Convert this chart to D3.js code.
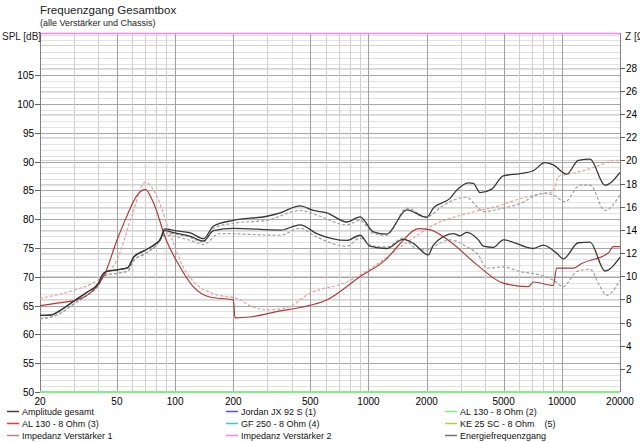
<!DOCTYPE html>
<html><head><meta charset="utf-8">
<script src="https://cdn.jsdelivr.net/npm/d3@7/dist/d3.min.js"></script>
<style>
html,body{margin:0;padding:0;background:#fff;}
svg{display:block;font-family:"Liberation Sans",Arial,sans-serif;}
</style></head>
<body><svg id="c" width="640" height="442"></svg>
<script>
// ---- data ----
const title = "Frequenzgang Gesamtbox";
const subtitle = "(alle Verstärker und Chassis)";
const yLeftLabel = "SPL [dB]";
const yRightLabel = "Z [Ω]";
const xTicks = [20, 50, 100, 200, 500, 1000, 2000, 5000, 10000, 20000];
const yLeftTicks = [50,55,60,65,70,75,80,85,90,95,100,105];
const yRightTicks = [2,4,6,8,10,12,14,16,18,20,22,24,26,28];
const yLeftDomain = [50, 112.3];
const yRightDomain = [0, 31];

// SPL curves [Hz, dB]
const amplitudeGesamt = [[20,63.3],[23,63.4],[25,64],[30,65.8],[35,67.3],[40,68.8],[42,70.3],[44,70.9],[50,71.2],[57,71.6],[61,73.4],[70,74.6],[80,75.8],[84,76.5],[88,78.3],[100,78],[120,77.6],[140,76.6],[158,78.8],[200,79.8],[298,80.5],[350,81.1],[443,82.3],[519,81.5],[608,81.1],[772,79.5],[904,80.4],[1060,77.8],[1240,77.4],[1580,81.6],[2000,80.3],[2165,81.9],[2640,83.6],[2860,85],[3285,86.3],[3490,86.2],[3780,84.6],[4340,85.2],[4980,87.5],[6080,87.9],[7120,88.4],[8180,89.8],[9040,89.4],[10600,87.8],[12170,90.2],[14000,90.4],[16720,85.9],[20000,88.1]];
const energieFG = [[20,63.3],[23,63.4],[25,64],[30,65.8],[35,67.3],[40,68.8],[42,70.3],[44,70.9],[50,71.2],[57,71.6],[61,73.4],[70,74.6],[80,75.8],[84,76.5],[88,78.0],[100,77.6],[120,77.0],[140,76.2],[158,78.0],[200,78.4],[350,78.1],[443,79.0],[540,77.5],[772,76.3],[904,77.2],[1018,75.3],[1240,74.9],[1514,76.5],[1706,75.8],[2040,73.8],[2165,75.5],[2750,77.5],[2975,77.1],[3220,77.7],[3700,76.4],[3930,75.3],[4425,75.1],[4980,76.4],[7120,74.9],[8020,75.5],[9400,74.1],[10180,73.1],[12170,75.9],[14000,76.0],[16720,71.0],[20000,73.4]];
const refUpper = [[20,62.7],[25,63.5],[30,65.3],[35,66.8],[40,68.4],[43,70.2],[50,70.6],[57,71.0],[61,72.8],[70,74],[80,75.5],[88,77.6],[100,77.4],[120,76.8],[140,76.0],[158,78.4],[200,79.3],[298,79.8],[443,81.5],[540,80.7],[772,79.0],[904,79.8],[1060,77.5],[1240,77.2],[1580,81.9],[2000,80.4],[2440,82.4],[3220,83.8],[3630,82.2],[3930,81.3],[4980,81.9],[6080,82.7],[8020,84.5],[9040,84.2],[10390,83.0],[12420,85.9],[14000,85.9],[16720,81.5],[20000,84.2]];
const refLower = [[20,62.7],[25,63.5],[30,65.3],[35,66.8],[40,68.4],[43,70.2],[50,70.6],[57,71.0],[61,72.8],[70,74],[80,75.5],[88,77.2],[100,77.0],[120,76.3],[140,75.6],[170,77.5],[350,77.2],[443,78.4],[540,76.9],[772,75.3],[904,76.7],[1060,75.3],[1240,75.2],[1514,76.7],[1706,75.2],[2000,74.6],[2165,75.2],[2640,76.4],[3220,75.2],[3700,73.8],[4090,71.5],[4980,71.7],[6080,70.9],[7710,70.3],[9040,69.4],[10180,68.3],[11940,70.9],[14000,71.3],[15770,68.3],[17060,66.8],[20000,69.4]];
// impedance curves [Hz, Ohm]
const impedanz1 = [[20,7.45],[25,7.7],[31,7.94],[40.5,9.39],[43,10.1],[50,13.1],[56,15.1],[63,16.9],[70,17.5],[77,16.4],[90,13.1],[106,10.8],[124,9.1],[151,8.2],[200,7.95],[204,6.4],[250,6.5],[348,7.0],[443,7.3],[608,7.95],[904,9.96],[1240,11.5],[1456,12.8],[1811,14.1],[2040,14.05],[2640,13.0],[3630,11.0],[4980,9.4],[6710,9.1],[7120,9.5],[9040,9.2],[9400,10.7],[11470,10.7],[12670,11.1],[17400,12.0],[18470,12.55],[20000,12.55]];
const impedanz2 = [[20,8.1],[30,8.8],[40,9.7],[50,11.4],[60,15.3],[70,18.1],[80,17],[94,13.7],[110,10.8],[125,9.5],[157,8.5],[216,8.0],[240,7.5],[300,7.1],[380,7.3],[494,8.5],[772,9.5],[1100,11.0],[1456,12.5],[1811,13.6],[2100,14.3],[3220,15.4],[4790,16.1],[5840,16.6],[8350,17.2],[9040,17.3],[9590,18.6],[11470,18.9],[13460,19.2],[16400,19.7],[18470,20.0],[20000,20.0]];

const legendLabels = ["Amplitude gesamt","Jordan JX 92 S (1)","AL 130 - 8 Ohm (2)","AL 130 - 8 Ohm (3)","GF 250 - 8 Ohm (4)","KE 25 SC - 8 Ohm    (5)","Impedanz Verstärker 1","Impedanz Verstärker 2","Energiefrequenzgang"];
const legendColors = ["#404040","#5050ff","#80f080","#ff3030","#40c8c8","#c8c840","#c08080","#ff80ff","#707070"];

// ---- chart ----
const svg = d3.select("#c");
const L = 40, R = 620, T = 33, B = 392;
const x = d3.scaleLog().domain([20,20000]).range([L,R]);
const yL = d3.scaleLinear().domain(yLeftDomain).range([B,T]);
const yR = d3.scaleLinear().domain(yRightDomain).range([B,T]);

const grid = svg.append("g");
d3.range(51, 113).forEach(v => {
  if (v % 5 === 0) return;
  grid.append("line").attr("x1",L).attr("x2",R).attr("y1",Math.round(yL(v))+0.5).attr("y2",Math.round(yL(v))+0.5)
    .attr("stroke","#e2e2e2");
});
d3.range(2, 31, 2).forEach(v => {
  grid.append("line").attr("x1",L).attr("x2",R).attr("y1",Math.round(yR(v))+0.5).attr("y2",Math.round(yR(v))+0.5)
    .attr("stroke","#d4d4d4");
});
yLeftTicks.forEach(v => {
  grid.append("line").attr("x1",L).attr("x2",R).attr("y1",Math.round(yL(v))+0.5).attr("y2",Math.round(yL(v))+0.5)
    .attr("stroke","#a8a8a8");
});
const minorF = [];
[10,100,1000,10000].forEach(d => { for (let k=1;k<10;k++){ const f=k*d; if (f>20 && f<20000 && !xTicks.includes(f)) minorF.push(f);} });
minorF.forEach(f => {
  grid.append("line").attr("y1",T).attr("y2",B).attr("x1",Math.round(x(f))+0.5).attr("x2",Math.round(x(f))+0.5)
    .attr("stroke","#d0d0d0");
});
xTicks.forEach(f => {
  grid.append("line").attr("y1",T).attr("y2",B).attr("x1",Math.round(x(f))+0.5).attr("x2",Math.round(x(f))+0.5)
    .attr("stroke","#a0a0a0");
});
svg.append("line").attr("x1",L+0.5).attr("x2",L+0.5).attr("y1",T).attr("y2",B).attr("stroke","#808080");
svg.append("line").attr("x1",R+0.5).attr("x2",R+0.5).attr("y1",T).attr("y2",B).attr("stroke","#808080");

svg.append("clipPath").attr("id","pc").append("rect").attr("x",L).attr("y",T).attr("width",R-L).attr("height",B-T);
const plot = svg.append("g").attr("clip-path","url(#pc)");
const lineL = d3.line().x(d=>x(d[0])).y(d=>yL(d[1])).curve(d3.curveMonotoneX);
const lineR = d3.line().x(d=>x(d[0])).y(d=>yR(d[1])).curve(d3.curveMonotoneX);

plot.append("path").datum(impedanz2).attr("d",lineR).attr("fill","none").attr("stroke","#e0a0a0").attr("stroke-width",1.2).attr("stroke-dasharray","3,2");
plot.append("path").datum(refUpper).attr("d",lineL).attr("fill","none").attr("stroke","#a0a0a0").attr("stroke-width",1.2).attr("stroke-dasharray","3,2");
plot.append("path").datum(refLower).attr("d",lineL).attr("fill","none").attr("stroke","#a0a0a0").attr("stroke-width",1.2).attr("stroke-dasharray","3,2");
plot.append("path").datum(impedanz1).attr("d",lineR).attr("fill","none").attr("stroke","#b03a3a").attr("stroke-width",1.2);
plot.append("path").datum(energieFG).attr("d",lineL).attr("fill","none").attr("stroke","#383838").attr("stroke-width",1.3);
plot.append("path").datum(amplitudeGesamt).attr("d",lineL).attr("fill","none").attr("stroke","#383838").attr("stroke-width",1.3);

svg.append("line").attr("x1",L).attr("x2",R).attr("y1",yR(yRightDomain[1])+0.5).attr("y2",yR(yRightDomain[1])+0.5).attr("stroke","#ff80ff").attr("stroke-width",1.5);
svg.append("line").attr("x1",L).attr("x2",R).attr("y1",yL(50)).attr("y2",yL(50)).attr("stroke","#80f080").attr("stroke-width",2);

const ax = svg.append("g").attr("font-size","10px").attr("fill","#000");
yLeftTicks.forEach(v => {
  const yy = Math.round(yL(v))+0.5;
  ax.append("line").attr("x1",L-5).attr("x2",L).attr("y1",yy).attr("y2",yy).attr("stroke","#606060");
  ax.append("text").attr("x",L-6).attr("y",yy+3.5).attr("text-anchor","end").text(v);
});
yRightTicks.forEach(v => {
  const yy = Math.round(yR(v))+0.5;
  ax.append("line").attr("x1",R).attr("x2",R+5).attr("y1",yy).attr("y2",yy).attr("stroke","#606060");
  ax.append("text").attr("x",R+6).attr("y",yy+3.5).attr("text-anchor","start").text(v);
});
xTicks.forEach(f => {
  ax.append("text").attr("x",x(f)).attr("y",B+13).attr("text-anchor","middle").text(f);
});

svg.append("text").attr("x",40).attr("y",14).attr("font-size","11.5px").attr("fill","#222").text(title);
svg.append("text").attr("x",40).attr("y",26).attr("font-size","9px").attr("fill","#222").text(subtitle);
svg.append("text").attr("x",2).attr("y",40).attr("font-size","10px").attr("fill","#222").text(yLeftLabel);
svg.append("text").attr("x",625).attr("y",40).attr("font-size","10px").attr("fill","#222").text(yRightLabel);

const colX = [7, 226, 445];
const rowY = [415, 427, 439];
const lg = svg.append("g").attr("font-size","9px");
legendLabels.forEach((t,i) => {
  const cx = colX[i%3], cy = rowY[Math.floor(i/3)];
  lg.append("line").attr("x1",cx).attr("x2",cx+12).attr("y1",cy-3.5).attr("y2",cy-3.5).attr("stroke",legendColors[i]).attr("stroke-width",1.5);
  lg.append("text").attr("x",cx+15).attr("y",cy).attr("fill","#111").style("white-space","pre").text(t);
});
</script></body></html>
